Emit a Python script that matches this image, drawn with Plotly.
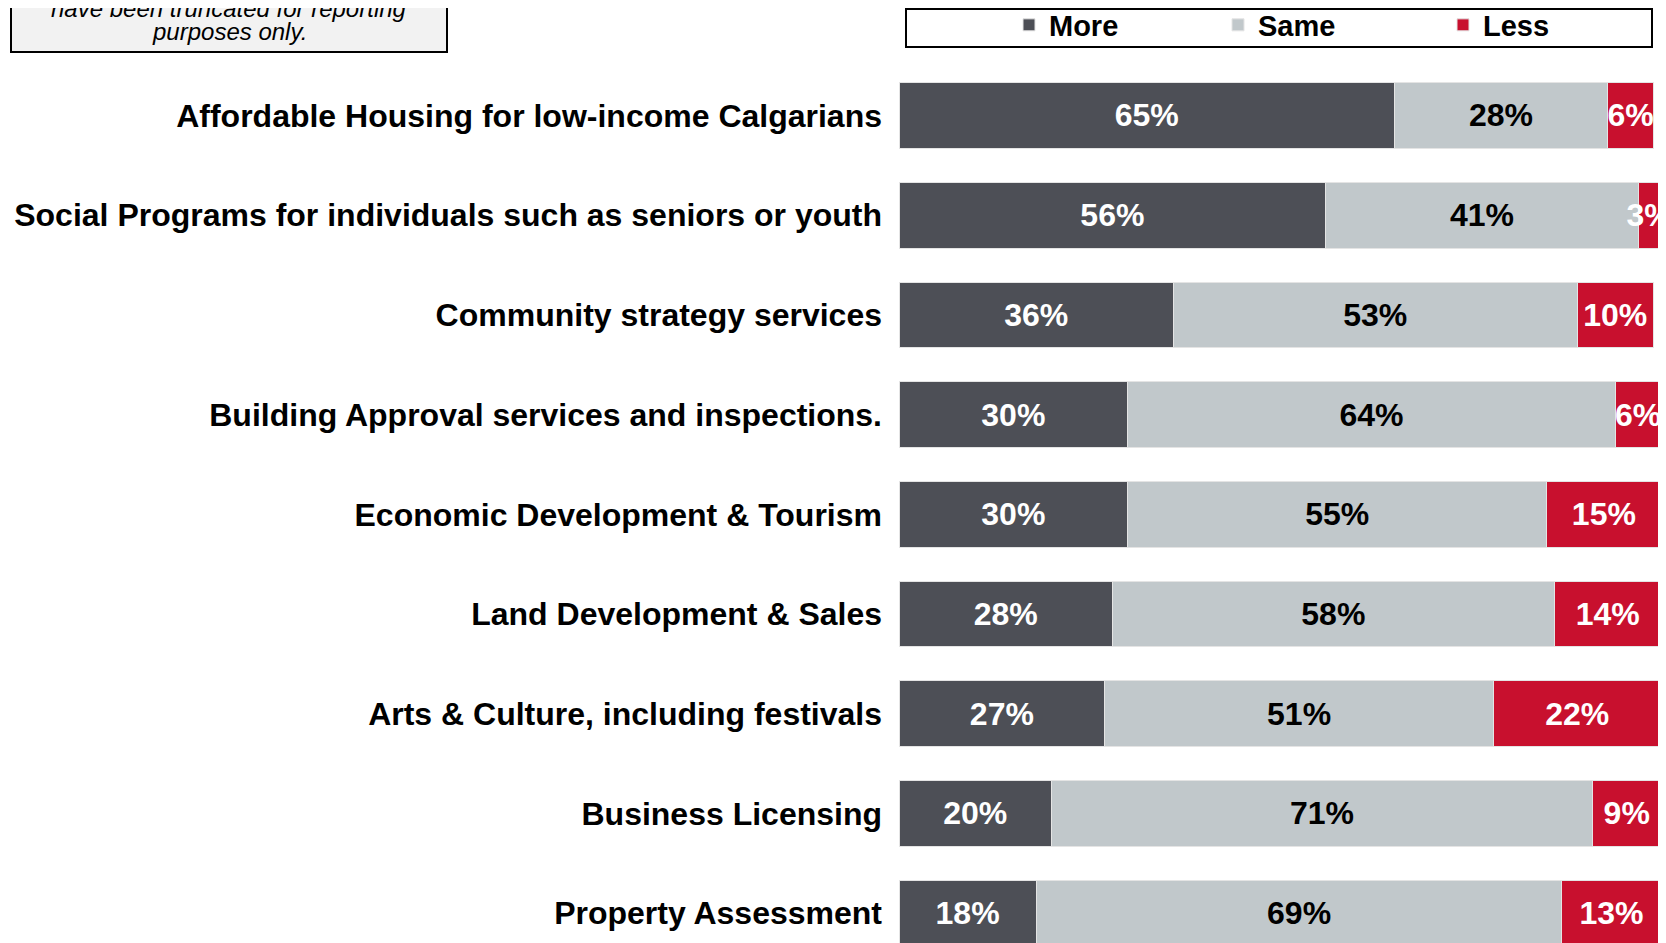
import plotly.graph_objects as go

categories = [
    "Affordable Housing for low-income Calgarians",
    "Social Programs for individuals such as seniors or youth",
    "Community strategy services",
    "Building Approval services and inspections.",
    "Economic Development & Tourism",
    "Land Development & Sales",
    "Arts & Culture, including festivals",
    "Business Licensing",
    "Property Assessment",
]
more = [65, 56, 36, 30, 30, 28, 27, 20, 18]
same = [28, 41, 53, 64, 55, 58, 51, 71, 69]
less = [6, 3, 10, 6, 15, 14, 22, 9, 13]

series = [
    ("More", more, "#4d4f56", "white", "legend", 1009),
    ("Same", same, "#c1c8cb", "black", "legend2", 1218),
    ("Less", less, "#c8102e", "white", "legend3", 1443),
]

FONT = "Liberation Sans, Arial, sans-serif"
W, H = 1666, 943
OFF = 8          # page body margin
L = 899 - OFF    # left margin in figure pixels


def px_x(p):
    return (p - OFF - L) / (W - L)


def px_y(p):
    return 1 - (p - OFF) / H


fig = go.Figure()
legends = {}
for name, vals, color, tcolor, lg, lx in series:
    fig.add_trace(go.Bar(
        name=name, y=categories, x=vals, orientation="h",
        marker=dict(color=color, line=dict(color="#e4e4e4", width=1)),
        width=0.66, legend=lg,
        text=[f"{v}%" for v in vals], textposition="inside", textangle=0,
        insidetextanchor="middle", constraintext="none",
        textfont=dict(color=tcolor, size=32, family=FONT, weight="bold"),
        cliponaxis=False,
    ))
    legends[lg] = dict(
        orientation="h", x=px_x(lx), xanchor="left", y=1 + 8.5 / H, yanchor="top",
        bgcolor="rgba(0,0,0,0)", borderwidth=0,
        font=dict(size=29, family=FONT, weight="bold", color="black"),
    )

fig.update_layout(
    width=W, height=H, barmode="stack",
    margin=dict(l=L, r=0, t=0, b=0, autoexpand=False),
    paper_bgcolor="white", plot_bgcolor="white",
    font=dict(family=FONT, color="black"),
    xaxis=dict(range=[0, (W - L) / 7.62], visible=False, fixedrange=True),
    yaxis=dict(
        categoryorder="array", categoryarray=categories,
        range=[8.379, -1.078], showgrid=False, zeroline=False, showline=False,
        ticks="", ticklabelstandoff=16, automargin=False,
        tickfont=dict(size=32, family=FONT, weight="bold", color="black"),
    ),
    showlegend=True,
    **legends,
    shapes=[
        dict(type="rect", xref="paper", yref="paper",
             x0=px_x(906), x1=px_x(1652), y0=px_y(47), y1=px_y(9),
             line=dict(color="black", width=2), fillcolor="rgba(0,0,0,0)", layer="above"),
        dict(type="rect", xref="paper", yref="paper",
             x0=px_x(11), x1=px_x(447), y0=px_y(52), y1=px_y(-20),
             line=dict(color="black", width=2), fillcolor="#f2f2f2", layer="above"),
    ],
    annotations=[
        dict(text="have been truncated for reporting", xref="paper", yref="paper",
             x=px_x(229), y=px_y(8), xanchor="center", yanchor="middle", showarrow=False,
             font=dict(size=24, family=FONT, style="italic", color="black")),
        dict(text="purposes only.", xref="paper", yref="paper",
             x=px_x(229), y=px_y(32), xanchor="center", yanchor="middle", showarrow=False,
             font=dict(size=24, family=FONT, style="italic", color="black")),
    ],
)

fig.write_html("out.html")
